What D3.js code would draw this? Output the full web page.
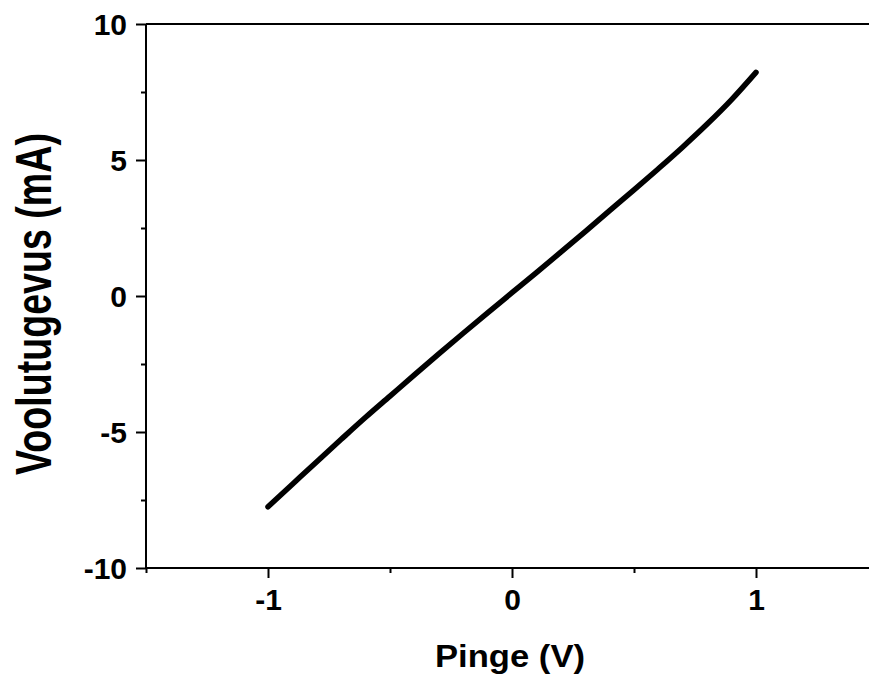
<!DOCTYPE html>
<html>
<head>
<meta charset="utf-8">
<script src="https://cdn.jsdelivr.net/npm/d3@7"></script>
<style>
  body { margin: 0; background: #fff; }
  svg { display: block; font-family: Arial, "Liberation Sans", sans-serif; font-weight: bold; }
</style>
</head>
<body>
<script>
// data
const voltage = [-1.0, -0.9, -0.8, -0.7, -0.6, -0.5, -0.4, -0.3, -0.2, -0.1,
                 0.0, 0.1, 0.2, 0.3, 0.4, 0.5, 0.6, 0.7, 0.8, 0.9, 1.0]
const current = [-7.75, -6.92, -6.09, -5.27, -4.46, -3.68, -2.90, -2.13, -1.37, -0.62,
                 0.12, 0.86, 1.61, 2.37, 3.14, 3.90, 4.68, 5.48, 6.32, 7.22, 8.22]
const xTicks = [-1, 0, 1]
const xMinor = [-1.5, -0.5, 0.5, 1.5]
const yTicks = [-10, -5, 0, 5, 10]
const yMinor = [-7.5, -2.5, 2.5, 7.5]

const W = 869, H = 684
const plot = { left: 146, top: 24, right: 878, bottom: 568 }

const x = d3.scaleLinear().domain([-1.5, 1.5]).range([plot.left, plot.right])
const y = d3.scaleLinear().domain([-10, 10]).range([plot.bottom, plot.top])

const svg = d3.select('body').append('svg')
  .attr('width', W).attr('height', H)

// frame lines (left, bottom, top, right - the right one falls outside the window)
const frame = svg.append('g').attr('stroke', '#000').attr('stroke-width', 2)
frame.append('line').attr('x1', plot.left).attr('x2', plot.left).attr('y1', plot.top).attr('y2', plot.bottom)
frame.append('line').attr('x1', plot.left).attr('x2', plot.right).attr('y1', plot.bottom).attr('y2', plot.bottom)
frame.append('line').attr('x1', plot.left).attr('x2', plot.right).attr('y1', plot.top).attr('y2', plot.top)
frame.append('line').attr('x1', plot.right).attr('x2', plot.right).attr('y1', plot.top).attr('y2', plot.bottom)

// plain hyphen for negatives, like the original
const fmt = d => String(d)

// axes
const xAxis = svg.append('g')
  .attr('transform', 'translate(0,' + plot.bottom + ')')
  .call(d3.axisBottom(x).tickValues(xTicks).tickSize(10).tickPadding(10).tickFormat(fmt))
svg.append('g')
  .attr('transform', 'translate(0,' + plot.bottom + ')')
  .call(d3.axisBottom(x).tickValues(xMinor).tickSize(5).tickFormat(''))

const yAxis = svg.append('g')
  .attr('transform', 'translate(' + plot.left + ',0)')
  .call(d3.axisLeft(y).tickValues(yTicks).tickSize(10).tickPadding(9).tickFormat(fmt))
svg.append('g')
  .attr('transform', 'translate(' + plot.left + ',0)')
  .call(d3.axisLeft(y).tickValues(yMinor).tickSize(5).tickFormat(''))

svg.selectAll('.domain').remove()
svg.selectAll('.tick line').attr('stroke', '#000').attr('stroke-width', 2)
svg.selectAll('.tick text')
  .attr('fill', '#000')
  .style('font-size', '30px')
  .style('font-family', 'Arial, "Liberation Sans", sans-serif')
  .style('font-weight', 'bold')
yAxis.selectAll('.tick text').attr('dy', '0.36em')
xAxis.selectAll('.tick text').attr('dy', '0.72em')

// curve
const points = voltage.map((v, i) => [v, current[i]])
svg.append('path')
  .datum(points)
  .attr('fill', 'none')
  .attr('stroke', '#000')
  .attr('stroke-width', 5.5)
  .attr('stroke-linecap', 'round')
  .attr('stroke-linejoin', 'round')
  .attr('d', d3.line().x(d => x(d[0])).y(d => y(d[1])).curve(d3.curveMonotoneX))

// axis titles
svg.append('text')
  .attr('x', 510).attr('y', 667)
  .attr('text-anchor', 'middle')
  .style('font-size', '31px')
  .attr('textLength', 150).attr('lengthAdjust', 'spacingAndGlyphs')
  .text('Pinge (V)')

svg.append('text')
  .attr('transform', 'translate(51,304) rotate(-90)')
  .attr('text-anchor', 'middle')
  .style('font-size', '50px')
  .attr('textLength', 342).attr('lengthAdjust', 'spacingAndGlyphs')
  .text('Voolutugevus (mA)')
</script>
</body>
</html>
